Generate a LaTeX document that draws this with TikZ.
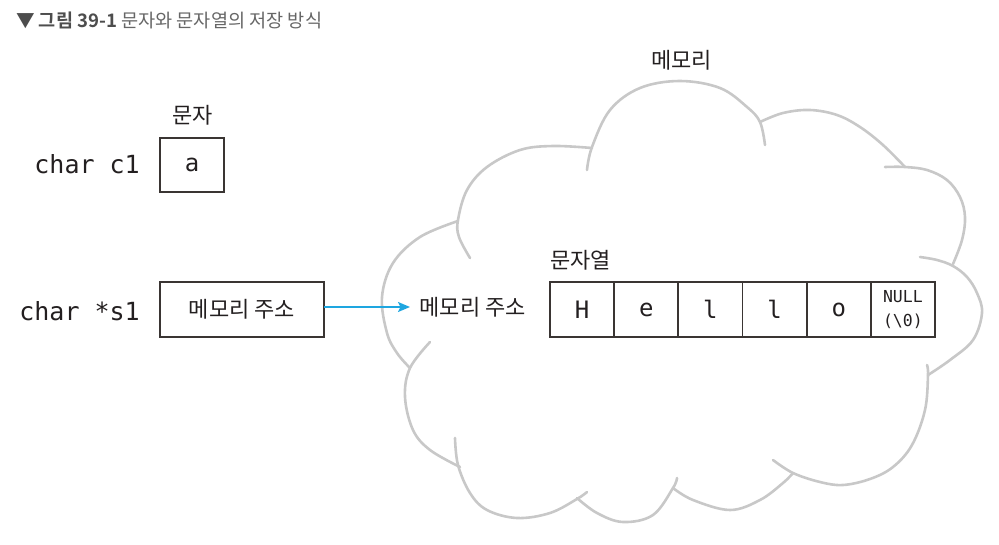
\documentclass[tikz,border=0pt]{standalone}
\usepackage{fontspec}
\setmainfont{Noto Sans CJK KR}[BoldFont={Noto Sans CJK KR Bold}]
\newfontfamily\mono{DejaVu Sans Mono}
\usetikzlibrary{arrows.meta}
\definecolor{boxline}{HTML}{3A3533}
\definecolor{ink}{HTML}{231F20}
\definecolor{cloudgray}{HTML}{C8C8C8}
\definecolor{arrowblue}{HTML}{1EA6E0}
\definecolor{titledark}{HTML}{4D4D4D}
\definecolor{titlelight}{HTML}{666666}
\begin{document}
\begin{tikzpicture}[x=1pt,y=-1pt,
  cloudline/.style={draw=cloudgray, line width=2.6pt, line cap=round},
  cellbox/.style={draw=boxline, line width=1.8pt, minimum width=64.17pt, minimum height=55pt,
    inner sep=0pt, outer sep=0pt, anchor=north west, text=ink, font=\mono\fontsize{24}{28}\selectfont},
  varbox/.style={draw=boxline, line width=1.8pt, inner sep=0pt, outer sep=0pt, text=ink},
  codelabel/.style={text=ink, font=\mono\fontsize{25}{30}\selectfont, inner sep=0pt, anchor=base east},
  korlabel/.style={text=ink, font=\fontsize{22}{26}\selectfont, inner sep=0pt},
  ptrarrow/.style={draw=arrowblue, line width=1.8pt, -{Stealth[length=12pt,width=10pt,inset=2.5pt]}}
]
\useasboundingbox (0,0) rectangle (999,544);

% title
\node[anchor=west, inner sep=0pt, font=\fontsize{18.6}{22}\selectfont] (title) at (16,20)
  {\textcolor{titledark}{▼ \textbf{그림 39-1}} \textcolor{titlelight}{문자와 문자열의 저장 방식}};

% cloud
\draw[cloudline] plot[smooth,tension=0.6] coordinates {(587,170) (592,147) (610,110) (640,88) (680,81) (720,88) (747,107) (760,122) (765,145)};
\draw[cloudline] plot[smooth,tension=0.6] coordinates {(760,122) (783,113) (810,110) (837,115) (860,127) (883,145) (905,167)};
\draw[cloudline] plot[smooth,tension=0.6] coordinates {(885,167) (905,167) (927,170) (947,180) (960,197) (965,217) (962,240) (953,264)};
\draw[cloudline] plot[smooth,tension=0.6] coordinates {(928,375) (950,360) (973,340) (982,313) (977,293) (967,277) (953,266) (937,260) (920,257)};
\draw[cloudline] plot[smooth,tension=0.6] coordinates {(773,460) (793,473) (820,482) (843,485) (870,479) (893,467) (912,445) (925,410) (928,375) (927,365)};
\draw[cloudline] plot[smooth,tension=0.6] coordinates {(673,488) (693,500) (730,510) (760,500) (783,483) (793,473)};
\draw[cloudline] plot[smooth,tension=0.6] coordinates {(577,498) (597,513) (623,522) (653,515) (673,488) (677,478)};
\draw[cloudline] plot[smooth,tension=0.6] coordinates {(455,438) (458,465) (470,493) (487,510) (517,518) (550,513) (577,499) (587,492)};
\draw[cloudline] plot[smooth,tension=0.6] coordinates {(430,342) (410,368) (405,397) (413,430) (430,450) (460,467)};
\draw[cloudline] plot[smooth,tension=0.6] coordinates {(458,221) (420,237) (393,263) (382,297) (387,333) (397,353) (410,368)};
\draw[cloudline] plot[smooth,tension=0.6] coordinates {(470,258) (459,237) (458,220) (467,190) (487,167) (520,150) (553,146) (592,148)};

\node[korlabel] (memlabel) at (681.5,60) {메모리};

% char c1
\node[codelabel] (c1label) at (140,173) {char c1};
\node[varbox, minimum width=64pt, minimum height=54pt, anchor=north west,
  font=\mono\fontsize{24}{28}\selectfont] (abox) at (160,138) {a};
\node[korlabel] (charlabel) at (192.5,115.5) {문자};

% char *s1
\node[codelabel] (s1label) at (140,320) {char *s1};
\node[varbox, minimum width=164pt, minimum height=55pt, anchor=north west,
  font=\fontsize{22}{26}\selectfont] (ptr) at (160,282) {메모리 주소};

% address in memory
\node[korlabel, inner xsep=9.5pt, anchor=west] (addr) at (410,307) {메모리 주소};
\draw[ptrarrow] (ptr.east |- addr.west) -- (addr.west);

% string cells
\node[korlabel, anchor=west] (strlabel) at (550,260.5) {문자열};
\node[cellbox] (s1) at (550,282) {H};
\node[cellbox] (s2) at (614.17,282) {e};
\node[cellbox] (s3) at (678.33,282) {l};
\node[cellbox] (s4) at (742.5,282) {l};
\node[cellbox] (s5) at (806.67,282) {o};
\node[cellbox, align=center, font=\mono\fontsize{16.5}{24}\selectfont] (s6) at (870.83,282) {NULL\\(\textbackslash 0)};
\end{tikzpicture}
\end{document}
